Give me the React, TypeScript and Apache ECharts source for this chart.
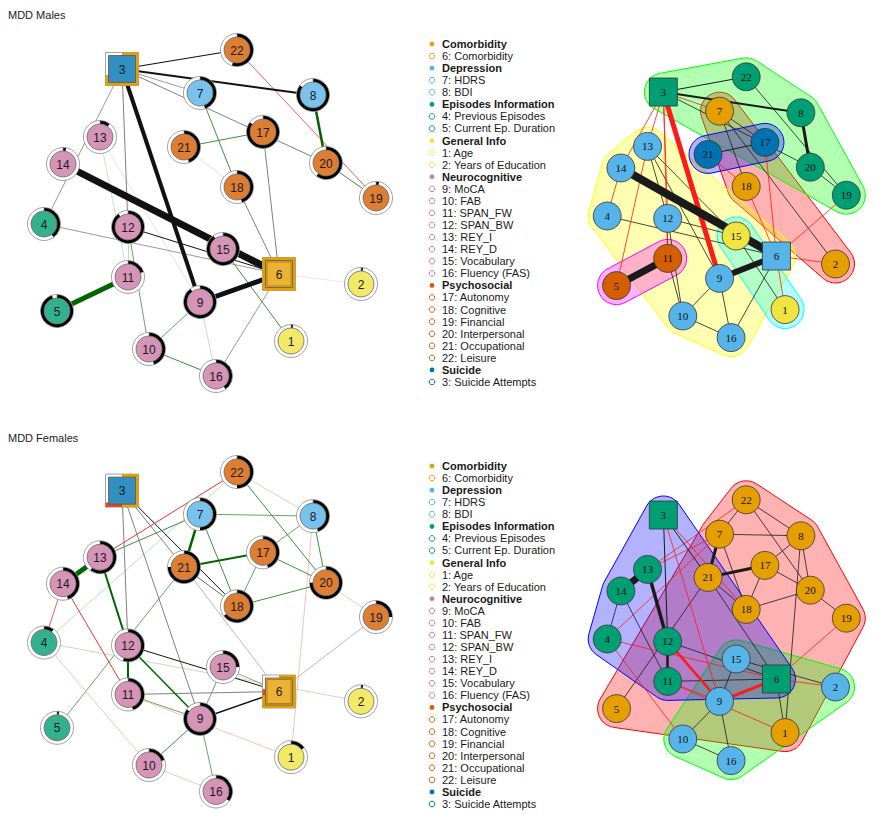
import React, { useEffect, useRef } from "react";
import * as echarts from "echarts";

// ---------------- DATA ----------------
const nodeIds = [1, 2, 3, 4, 5, 6, 7, 8, 9, 10, 11, 12, 13, 14, 15, 16, 17, 18, 19, 20, 21, 22];
// shared network layout (same for all four panels)
const layoutX = [291, 361, 122, 44, 57, 279, 200, 313, 200, 149, 128, 128, 100, 63, 223, 216, 263, 237, 376, 326, 184, 237];
const layoutY = [341, 284, 69, 224, 311, 274, 93, 95, 302, 349, 277, 227, 137, 164, 249, 376, 132, 187, 198, 163, 147, 50];
const squareNodes = [3, 6];

const groupNames = ["Comorbidity", "Depression", "Episodes Information", "General Info", "Neurocognitive", "Psychosocial", "Suicide"];
const groupColors = ["#E69F00", "#56B4E9", "#009E73", "#F0E442", "#CC79A7", "#D55E00", "#0072B2"];
const nodeGroup = [3, 3, 6, 2, 2, 0, 1, 1, 4, 4, 4, 4, 4, 4, 4, 4, 5, 5, 5, 5, 5, 5];
const nodeLabels = [
  "1: Age", "2: Years of Education", "3: Suicide Attempts", "4: Previous Episodes", "5: Current Ep. Duration",
  "6: Comorbidity", "7: HDRS", "8: BDI", "9: MoCA", "10: FAB", "11: SPAN_FW", "12: SPAN_BW", "13: REY_I",
  "14: REY_D", "15: Vocabulary", "16: Fluency (FAS)", "17: Autonomy", "18: Cognitive", "19: Financial",
  "20: Interpersonal", "21: Occupational", "22: Leisure",
];

// predictability pies (circle nodes)
const malesPie = [0.02, 0.02, 0, 0.4, 0.95, 0, 0.45, 0.85, 0.9, 0.45, 0.2, 0.9, 0.1, 0.03, 0.9, 0.4, 0.85, 0.45, 0.03, 0.6, 0.45, 0.55];
const femalesPie = [0.15, 0.02, 0, 0.1, 0.02, 0, 0.5, 0.45, 0.85, 0.2, 0.45, 0.55, 0.6, 0.45, 0.25, 0.35, 0.45, 0.65, 0.25, 0.75, 0.75, 0.5];
// categorical pies (square nodes): [node, orange share, red share]
const malesCatPie = [[3, 0.7, 0], [6, 1.0, 0]];
const femalesCatPie = [[3, 0.5, 0.15], [6, 0.72, 0.05]];

// edges: [from, to, width, colour code]
const malesEdges: [number, number, number, string][] = [
  [3, 22, 1.2, "K"], [3, 8, 1.8, "K"], [3, 7, 0.8, "k"], [3, 20, 1, "k"], [22, 19, 0.8, "R"],
  [8, 20, 2.5, "G"], [7, 18, 1, "g"], [21, 17, 1, "g"], [21, 18, 0.8, "lk"], [17, 6, 1, "k"],
  [18, 6, 1, "k"], [20, 19, 1, "g"], [3, 4, 0.8, "k"], [14, 6, 7, "K"], [3, 9, 4, "K"],
  [3, 12, 1, "k"], [12, 10, 0.8, "g"], [12, 11, 0.8, "lg"], [13, 9, 0.7, "lk"], [13, 11, 0.7, "lg"],
  [4, 6, 0.8, "k"], [12, 6, 1, "K"], [15, 1, 1, "g"], [5, 11, 5, "G"], [9, 6, 5, "K"],
  [9, 10, 0.8, "g"], [9, 16, 0.8, "lg"], [10, 16, 1, "g"], [6, 16, 0.8, "k"], [6, 2, 0.6, "lk"],
];
const femalesEdges: [number, number, number, string][] = [
  [3, 12, 1, "k"], [3, 9, 1, "k"], [3, 21, 1, "k"], [3, 18, 1, "K"], [22, 13, 1, "R"],
  [22, 4, 0.8, "lg"], [22, 8, 0.8, "lg"], [22, 20, 1, "g"], [7, 8, 0.8, "g"], [7, 13, 1, "g"],
  [7, 21, 2.5, "G"], [7, 18, 1, "g"], [8, 17, 0.8, "g"], [8, 20, 1, "g"], [8, 1, 0.8, "lr"],
  [17, 21, 2, "G"], [17, 18, 0.8, "g"], [17, 20, 1, "g"], [21, 18, 1, "g"], [18, 20, 1, "g"],
  [20, 19, 0.8, "lg"], [21, 5, 0.8, "g"], [21, 6, 0.8, "k2"], [13, 14, 5, "G"], [13, 12, 2, "G"],
  [14, 4, 0.8, "R"], [14, 11, 1, "R"], [4, 2, 0.8, "lg"], [4, 10, 0.8, "lr"], [12, 11, 2, "G"],
  [12, 9, 1.5, "G"], [12, 6, 1, "K"], [11, 6, 1, "k"], [11, 9, 0.8, "g"], [11, 1, 0.8, "lr"],
  [9, 6, 1.5, "K"], [9, 15, 0.8, "g"], [9, 10, 1, "g"], [9, 16, 0.8, "g"], [10, 16, 0.8, "lg"],
  [15, 6, 0.8, "k"], [6, 19, 0.8, "k2"],
];

// community networks (right panels)
const malesComm = [4, 1, 3, 2, 6, 2, 1, 3, 2, 2, 6, 2, 2, 2, 4, 2, 5, 1, 3, 3, 5, 3];
const femalesComm = [1, 2, 3, 3, 1, 3, 1, 1, 2, 2, 3, 3, 3, 3, 2, 2, 1, 1, 1, 1, 1, 1];
const commNodeColors = ["#E69F00", "#56B4E9", "#009E73", "#F0E442", "#0072B2", "#D55E00"];
const malesHullColors = ["#FF0000", "#FFFF00", "#00FF00", "#00FFFF", "#0000FF", "#FF00FF"];
const femalesHullColors = ["#FF0000", "#00FF00", "#0000FF"];

const malesCommEdges: [number, number, number, string][] = [
  [3, 22, 1, "K"], [3, 8, 2, "K"], [3, 7, 0.8, "R"], [3, 20, 0.8, "K"], [7, 17, 0.8, "K"],
  [7, 18, 0.8, "K"], [7, 2, 0.8, "K"], [22, 19, 0.8, "K"], [20, 19, 0.8, "K"], [8, 20, 3, "K"],
  [21, 17, 1, "K"], [15, 1, 0.8, "K"], [14, 6, 8, "K"], [9, 6, 6, "K"], [5, 11, 7, "K"],
  [13, 12, 0.8, "K"], [13, 9, 0.8, "K"], [13, 15, 0.8, "K"], [12, 10, 0.8, "K"], [11, 10, 0.8, "K"],
  [4, 6, 0.8, "K"], [12, 15, 0.8, "K"], [9, 10, 0.8, "K"], [9, 16, 0.8, "K"], [10, 16, 0.8, "K"],
  [6, 16, 0.8, "K"], [3, 9, 5, "R"], [3, 13, 0.8, "R"], [3, 14, 0.8, "R"], [3, 12, 0.8, "R"],
  [3, 11, 0.8, "R"], [13, 5, 0.8, "R"], [14, 4, 0.8, "R"], [21, 18, 0.8, "R"], [17, 6, 0.8, "R"],
  [18, 6, 0.8, "R"], [19, 6, 0.8, "R"], [6, 2, 0.8, "R"], [6, 1, 0.8, "R"], [12, 11, 1, "R"],
];
const femalesCommEdges: [number, number, number, string][] = [
  [3, 12, 1, "K"], [3, 21, 1, "K"], [22, 7, 0.8, "K"], [22, 8, 0.8, "K"], [22, 20, 0.8, "K"],
  [7, 8, 0.8, "K"], [7, 21, 3, "K"], [7, 18, 0.8, "K"], [8, 17, 0.8, "K"], [8, 20, 0.8, "K"],
  [8, 1, 0.8, "K"], [17, 21, 3, "K"], [17, 18, 0.8, "K"], [17, 20, 0.8, "K"], [21, 18, 0.8, "K"],
  [18, 20, 0.8, "K"], [20, 19, 0.8, "K"], [21, 5, 0.8, "K"], [21, 6, 0.8, "K"], [13, 14, 7, "K"],
  [13, 12, 3.5, "K"], [14, 4, 0.8, "K"], [14, 11, 0.8, "K"], [12, 11, 2.5, "K"], [12, 6, 0.8, "K"],
  [11, 6, 0.8, "K"], [9, 15, 0.8, "K"], [9, 10, 0.8, "K"], [9, 16, 0.8, "K"], [10, 16, 0.8, "K"],
  [15, 2, 0.8, "K"], [6, 1, 0.8, "K"], [3, 9, 0.8, "R"], [3, 18, 0.8, "R"], [22, 13, 0.8, "R"],
  [7, 13, 0.8, "R"], [7, 4, 0.8, "R"], [4, 6, 0.8, "R"], [4, 10, 0.8, "R"], [12, 9, 2.5, "R"],
  [11, 9, 0.8, "R"], [11, 1, 0.8, "R"], [9, 6, 3, "R"], [6, 19, 0.8, "R"], [6, 2, 0.8, "R"],
];

const edgeColors: Record<string, string> = {
  G: "#006400", g: "#3f8f3f", lg: "#b3d4b3", R: "#e8333a", lr: "#f4b0b0",
  K: "#111111", k: "#808080", k2: "#a8a8a8", lk: "#d8d8d8",
};
const commEdgeColors: Record<string, string> = { K: "#1a1a1a", R: "#ff1a1a" };

// ---------------- HELPERS ----------------
const rgba = (hex: string, a: number) => {
  const n = parseInt(hex.slice(1), 16);
  return `rgba(${(n >> 16) & 255},${(n >> 8) & 255},${n & 255},${a})`;
};

function convexHull(pts: number[][]) {
  const p = pts.slice().sort((a, b) => (a[0] - b[0]) || (a[1] - b[1]));
  const cross = (o: number[], a: number[], b: number[]) => (a[0] - o[0]) * (b[1] - o[1]) - (a[1] - o[1]) * (b[0] - o[0]);
  const lower: number[][] = [];
  for (const q of p) {
    while (lower.length >= 2 && cross(lower[lower.length - 2], lower[lower.length - 1], q) <= 0) lower.pop();
    lower.push(q);
  }
  const upper: number[][] = [];
  for (let i = p.length - 1; i >= 0; i--) {
    const q = p[i];
    while (upper.length >= 2 && cross(upper[upper.length - 2], upper[upper.length - 1], q) <= 0) upper.pop();
    upper.push(q);
  }
  upper.pop();
  lower.pop();
  return lower.concat(upper);
}

function perimSegment(cx: number, cy: number, h: number, f0: number, f1: number) {
  const L = 8 * h;
  const at = (s: number) => {
    if (s <= h) return [cx + s, cy - h];
    if (s <= 3 * h) return [cx + h, cy - h + (s - h)];
    if (s <= 5 * h) return [cx + h - (s - 3 * h), cy + h];
    if (s <= 7 * h) return [cx - h, cy + h - (s - 5 * h)];
    return [cx - h + (s - 7 * h), cy - h];
  };
  const s0 = f0 * L, s1 = f1 * L;
  const pts = [at(s0)];
  for (const c of [h, 3 * h, 5 * h, 7 * h]) if (c > s0 && c < s1) pts.push(at(c));
  pts.push(at(s1));
  return pts;
}

const SANS = "'Liberation Sans', Arial, Helvetica, sans-serif";
const SERIF = "'Liberation Serif', 'Times New Roman', serif";

type Panel = {
  kind: "pred" | "comm";
  left: number; top: number; sx: number; sy: number;
  edges: [number, number, number, string][];
  pie?: number[]; cat?: number[][];
  comm?: number[]; hullColors?: string[];
};

const panels: Panel[] = [
  { kind: "pred", left: 0, top: 0, sx: 1, sy: 1, edges: malesEdges, pie: malesPie, cat: malesCatPie },
  { kind: "comm", left: 575.5, top: 36.8, sx: 0.783, sy: 0.8, edges: malesCommEdges, comm: malesComm, hullColors: malesHullColors },
  { kind: "pred", left: 0, top: 423, sx: 1, sy: 1, edges: femalesEdges, pie: femalesPie, cat: femalesCatPie },
  { kind: "comm", left: 575.5, top: 459.8, sx: 0.783, sy: 0.8, edges: femalesCommEdges, comm: femalesComm, hullColors: femalesHullColors },
];

const XMAX = 420, YMAX = 400;

function buildOption() {
  const grid: any[] = [], xAxis: any[] = [], yAxis: any[] = [], series: any[] = [];
  panels.forEach((pn, gi) => {
    grid.push({ left: pn.left, top: pn.top, width: XMAX * pn.sx, height: YMAX * pn.sy, containLabel: false, show: false });
    xAxis.push({ type: "value", gridIndex: gi, min: 0, max: XMAX, show: false });
    yAxis.push({ type: "value", gridIndex: gi, min: 0, max: YMAX, inverse: true, show: false });

    const pos = (id: number) => [layoutX[id - 1], layoutY[id - 1]];

    if (pn.kind === "comm") {
      const nComm = pn.hullColors!.length;
      series.push({
        type: "custom", xAxisIndex: gi, yAxisIndex: gi, z: 1, silent: true, clip: false,
        data: Array.from({ length: nComm }, (_, i) => [0, 0, i]),
        encode: { x: 0, y: 1 },
        renderItem: (params: any, api: any) => {
          const ci = api.value(2);
          const pts: number[][] = [];
          nodeIds.forEach((id, k) => {
            if (pn.comm![k] !== ci + 1) return;
            const c = api.coord(pos(id));
            for (let a = 0; a < 40; a++) {
              const t = (a / 40) * Math.PI * 2;
              pts.push([c[0] + 19 * Math.cos(t), c[1] + 19 * Math.sin(t)]);
            }
          });
          if (!pts.length) return null;
          const hull = convexHull(pts);
          const col = pn.hullColors![ci];
          return {
            type: "polygon", shape: { points: hull },
            style: { fill: rgba(col, 0.3), stroke: col, lineWidth: 1 },
          };
        },
      });
    }

    const colMap = pn.kind === "comm" ? commEdgeColors : edgeColors;
    const sorted = pn.edges.slice().sort((a, b) => a[2] - b[2]);
    series.push({
      type: "lines", coordinateSystem: "cartesian2d", xAxisIndex: gi, yAxisIndex: gi, z: 2,
      silent: true, clip: false, polyline: false,
      data: sorted.map((e) => ({
        coords: [pos(e[0]), pos(e[1])],
        lineStyle: { color: colMap[e[3]], width: e[2], opacity: 1, curveness: 0 },
      })),
    });

    series.push({
      type: "custom", xAxisIndex: gi, yAxisIndex: gi, z: 3, silent: true, clip: false,
      data: nodeIds.map((id, k) => [layoutX[k], layoutY[k], id]),
      encode: { x: 0, y: 1 },
      renderItem: (params: any, api: any) => {
        const id = api.value(2);
        const k = id - 1;
        const c = api.coord([api.value(0), api.value(1)]);
        const cx = c[0], cy = c[1];
        const isSq = squareNodes.indexOf(id) >= 0;
        const children: any[] = [];
        if (pn.kind === "comm") {
          const fill = commNodeColors[pn.comm![k] - 1];
          if (isSq) {
            children.push({ type: "rect", shape: { x: cx - 14, y: cy - 14, width: 28, height: 28 }, style: { fill, stroke: "#333", lineWidth: 0.8 } });
          } else {
            children.push({ type: "circle", shape: { cx, cy, r: 14 }, style: { fill, stroke: "#333", lineWidth: 0.8 } });
          }
          children.push({
            type: "text",
            style: { text: String(id), x: cx, y: cy, align: "center", verticalAlign: "middle", fontSize: 11, fontFamily: SERIF, fill: "#111" },
          });
        } else {
          const fill = rgba(groupColors[nodeGroup[k]], 0.8);
          if (isSq) {
            children.push({ type: "rect", shape: { x: cx - 16.5, y: cy - 16.5, width: 33, height: 33 }, style: { fill: "#fff", stroke: "#8a8a8a", lineWidth: 0.8 } });
            const cp = pn.cat!.find((r) => r[0] === id) || [id, 0, 0];
            const orange = cp[1], red = cp[2];
            if (orange > 0) children.push({ type: "polyline", shape: { points: perimSegment(cx, cy, 15, 0, orange) }, style: { stroke: "#E69F00", lineWidth: 3, fill: null, lineJoin: "miter" } });
            if (red > 0) children.push({ type: "polyline", shape: { points: perimSegment(cx, cy, 15, orange, orange + red) }, style: { stroke: "#E8461C", lineWidth: 3, fill: null, lineJoin: "miter" } });
            children.push({ type: "rect", shape: { x: cx - 13.5, y: cy - 13.5, width: 27, height: 27 }, style: { fill, stroke: "#555", lineWidth: 0.8 } });
            if (id === 6) children.push({ type: "rect", shape: { x: cx - 12, y: cy - 12, width: 24, height: 24 }, style: { fill: null, stroke: "#8a5a00", lineWidth: 0.6 } });
          } else {
            children.push({ type: "circle", shape: { cx, cy, r: 16.5 }, style: { fill: "#fff", stroke: "#8a8a8a", lineWidth: 0.8 } });
            const f = pn.pie![k];
            if (f > 0) {
              children.push({
                type: "sector",
                shape: { cx, cy, r0: 13, r: 16.2, startAngle: -Math.PI / 2, endAngle: -Math.PI / 2 + Math.PI * 2 * Math.min(f, 0.9999), clockwise: true },
                style: { fill: "#000" },
              });
            }
            children.push({ type: "line", shape: { x1: cx, y1: cy - 16.5, x2: cx, y2: cy - 13 }, style: { stroke: "#999", lineWidth: 0.7 } });
            children.push({ type: "circle", shape: { cx, cy, r: 13 }, style: { fill, stroke: "#666", lineWidth: 0.8 } });
          }
          children.push({
            type: "text",
            style: { text: String(id), x: cx, y: cy + 0.5, align: "center", verticalAlign: "middle", fontSize: 12, fontFamily: SANS, fill: "#1a1a1a" },
          });
        }
        return { type: "group", children };
      },
    });
  });

  // legend + titles as graphic elements
  const graphic: any[] = [];
  const titles = [["MDD Males", 16], ["MDD Females", 439]] as [string, number][];
  titles.forEach(([t, y]) => {
    graphic.push({
      type: "text", left: 8, top: y - 7, silent: true,
      style: { text: t, fontSize: 11, fontFamily: SANS, fill: "#222" },
    });
  });
  const legendStarts = [44, 466];
  const STEP = 12.07;
  legendStarts.forEach((y0) => {
    let row = 0;
    groupNames.forEach((g, gi) => {
      const y = y0 + row * STEP;
      graphic.push({ type: "circle", silent: true, shape: { cx: 432, cy: y, r: 2.4 }, style: { fill: groupColors[gi] } });
      graphic.push({
        type: "text", silent: true, x: 442, y,
        style: { text: g, fontSize: 11, fontWeight: "bold", fontFamily: SANS, fill: "#1a1a1a", textVerticalAlign: "middle", verticalAlign: "middle" },
      });
      row++;
      nodeIds.forEach((id, k) => {
        if (nodeGroup[k] !== gi) return;
        const yy = y0 + row * STEP;
        graphic.push({ type: "circle", silent: true, shape: { cx: 432, cy: yy, r: 2.8 }, style: { fill: "#fff", stroke: groupColors[gi], lineWidth: 1 } });
        graphic.push({
          type: "text", silent: true, x: 442, y: yy,
          style: { text: nodeLabels[k], fontSize: 11, fontFamily: SANS, fill: "#1a1a1a", textVerticalAlign: "middle", verticalAlign: "middle" },
        });
        row++;
      });
    });
  });

  return { animation: false, backgroundColor: "#ffffff", grid, xAxis, yAxis, series, graphic };
}

export default function App() {
  const ref = useRef<HTMLDivElement>(null);
  useEffect(() => {
    document.body.style.margin = "0";
    if (!ref.current) return;
    const chart = echarts.init(ref.current, undefined, { renderer: "svg" });
    chart.setOption(buildOption());
    return () => chart.dispose();
  }, []);
  return <div ref={ref} style={{ width: 878, height: 815 }} />;
}
